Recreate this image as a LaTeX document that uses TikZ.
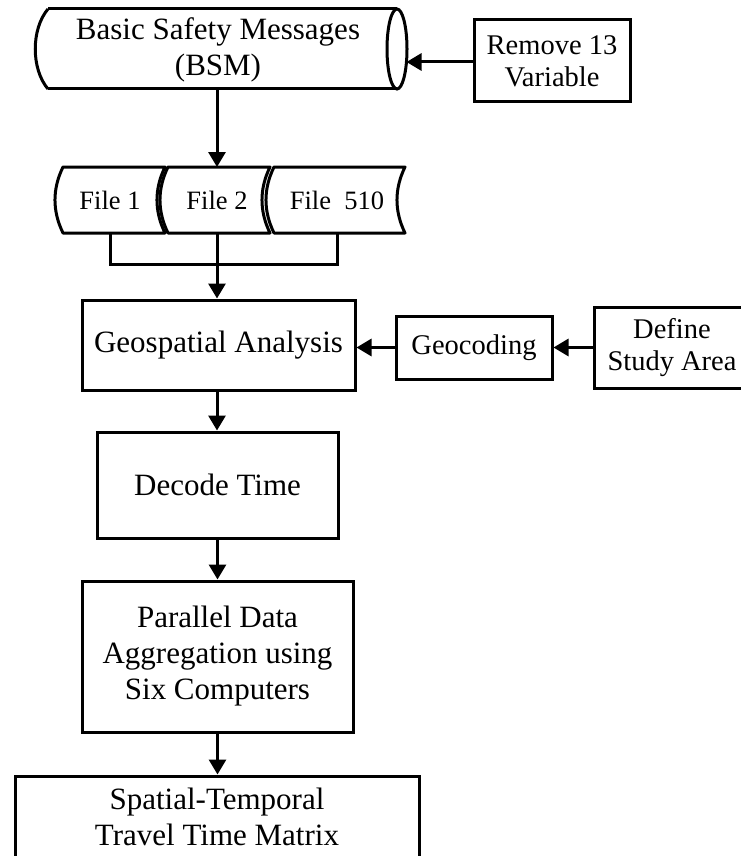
\documentclass[tikz,border=0pt]{standalone}
\usepackage{fontspec}
\setmainfont{Liberation Serif}
\usetikzlibrary{arrows.meta,calc}
\begin{document}
\begin{tikzpicture}[x=1pt,y=-1pt,
  line width=3pt,
  mainbox/.style={draw,rectangle,align=center,inner sep=0pt,font=\fontsize{31}{36}\selectfont},
  sidebox/.style={draw,rectangle,align=center,inner sep=0pt,font=\fontsize{28.5}{32}\selectfont},
  lbl/.style={align=center,inner sep=0pt},
  arr/.style={-{Triangle[length=15pt,width=17pt]},line width=3pt},
  ln/.style={line width=3pt}]
\useasboundingbox (0,0) rectangle (740,856);

% BSM cylinder
\draw (48,9) -- (397,9) (48,89) -- (397,89);
\draw (48,9) .. controls (31,29) and (31,69) .. (48,89);
\draw (397,49) ellipse [x radius=10, y radius=40];
\node[lbl,font=\fontsize{31}{36}\selectfont] (bsm) at (218,50) {Basic Safety Messages\\(BSM)};
\coordinate (bsmR) at (406.5,62);
\coordinate (bsmB) at (217,89);

\node[sidebox,minimum width=156pt,minimum height=82pt] (remove) at (552,61) {Remove 13\\Variable};

% Files
\foreach \xl/\xr in {63/165, 168/270, 274/405}{
  \draw[line join=round] (\xl,167) -- (\xr,167)
     .. controls (\xr-10.7,189) and (\xr-10.7,211) .. (\xr,233)
     -- (\xl,233)
     .. controls (\xl-10.7,211) and (\xl-10.7,189) .. (\xl,167) -- cycle;
}
\node[lbl,font=\fontsize{26.5}{30}\selectfont] (file1) at (110,200) {File 1};
\node[lbl,font=\fontsize{26.5}{30}\selectfont] (file2) at (217,200) {File 2};
\node[lbl,font=\fontsize{26.5}{30}\selectfont] (file3) at (337,200) {File\ \ 510};
\coordinate (f1b) at (110,233);
\coordinate (f2t) at (217,167);
\coordinate (f2b) at (217,233);
\coordinate (f3b) at (337,233);
\coordinate (jl) at (110,264);
\coordinate (jr) at (337,264);

\node[mainbox,minimum width=273pt,minimum height=90pt] (geo) at (218.5,345) {Geospatial Analysis};
\node[sidebox,minimum width=156pt,minimum height=63pt] (geocod) at (474,347.5) {Geocoding};
\node[sidebox,minimum width=156pt,minimum height=81pt] (define) at (672,347.5) {Define\\Study Area};
\node[mainbox,minimum width=241pt,minimum height=106pt] (decode) at (217.5,485) {Decode Time};
\node[mainbox,minimum width=271pt,minimum height=151pt] (par) at (217.5,656.5) {Parallel Data\\Aggregation using\\Six Computers};
\node[mainbox,minimum width=404pt,minimum height=81pt] (st) at (217,816.5) {Spatial-Temporal\\Travel Time Matrix};

% connectors
\draw[arr] (remove.west |- bsmR) -- (bsmR);
\draw[arr] (bsmB) -- (f2t);
\draw[ln] (f1b) -- (jl) -- (jr) -- (f3b);
\draw[arr] (f2b) -- (f2b |- geo.north);
\draw[arr] (define.west) -- (geocod.east);
\draw[arr] (geocod.west) -- (geocod.west -| geo.east);
\draw[arr] (geo.south -| 217,0) -- (decode.north -| 217,0);
\draw[arr] (decode.south) -- (par.north);
\draw[arr] (par.south) -- (par.south |- st.north);
\end{tikzpicture}
\end{document}
